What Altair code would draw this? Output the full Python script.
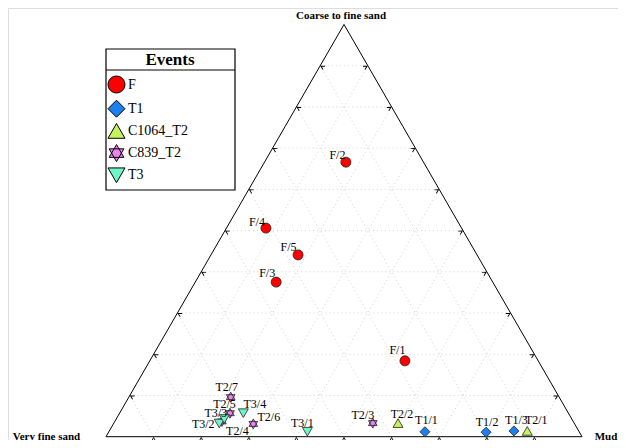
import altair as alt
import pandas as pd
import math

# ---------------- data (percentages) ----------------
SAMPLES = ["F/1", "F/2", "F/3", "F/4", "F/5",
           "T1/1", "T1/2", "T1/3",
           "T2/1", "T2/2", "T2/3", "T2/4", "T2/5", "T2/6", "T2/7",
           "T3/1", "T3/2", "T3/3", "T3/4"]
EVENTS = ["F", "F", "F", "F", "F",
          "T1", "T1", "T1",
          "C1064_T2", "C1064_T2", "C839_T2", "C839_T2", "C839_T2", "C839_T2", "C839_T2",
          "T3", "T3", "T3", "T3"]
COARSE = [18.4, 66.6, 37.5, 50.6, 44.1,
          1.2, 1.1, 1.4,
          1.4, 3.3, 3.3, 3.7, 5.7, 3.1, 9.6,
          1.2, 3.2, 4.3, 5.7]
VERY_FINE = [28.0, 16.3, 45.5, 41.1, 37.6,
             32.4, 19.6, 13.6,
             10.8, 37.0, 42.3, 73.8, 71.1, 67.5, 69.0,
             57.1, 74.6, 73.0, 68.3]
MUD = [53.6, 17.1, 17.0, 8.3, 18.3,
       66.4, 79.3, 85.0,
       87.8, 59.7, 54.4, 22.5, 23.2, 29.4, 21.4,
       41.7, 22.2, 22.7, 26.0]

EVENT_ORDER = ["F", "T1", "C1064_T2", "C839_T2", "T3"]
VERTEX_NAMES = ["Coarse to fine sand", "Very fine sand", "Mud"]
GRID_STEPS = [1, 2, 3, 4, 5, 6, 7, 8, 9]

# ---------------- styling ----------------
EVENT_COLORS = ["#ff0000", "#1e7ff0", "#c6f25e", "#ee82ee", "#6ef5c8"]
HEXAGRAM = "M0,-1L0.866,0.5L-0.866,0.5Z M0,1L-0.866,-0.5L0.866,-0.5Z"
EVENT_SHAPES = ["circle", "diamond", "triangle-up", HEXAGRAM, "triangle-down"]
SERIF = "Liberation Serif"

# label offsets in pixels (dx right, dy down) from each point to its label centre
LABEL_OFFSETS = {
    "F/1": (-7.5, -11), "F/2": (-8.5, -7), "F/3": (-9, -9), "F/4": (-9, -6), "F/5": (-9.5, -8),
    "T1/1": (1.5, -11.5), "T1/2": (1, -10), "T1/3": (2.5, -11),
    "T2/1": (9, -11), "T2/2": (4, -9), "T2/3": (-10, -8), "T2/4": (15.5, 9.5),
    "T2/5": (-5.5, -9), "T2/6": (15.5, -7), "T2/7": (-4, -10),
    "T3/1": (-5, -9), "T3/2": (-16, 0), "T3/3": (-8.5, -6), "T3/4": (11.5, -9),
}
# offsets (px) of each vertex title's baseline centre from its vertex
VERTEX_OFFSETS = [(-3, -5), (-59.5, 2.8), (24, 2.8)]

W, H = 610, 432
SIDE = 476.0          # pixels per unit triangle side
LEFT_PX = 98.0        # x pixel of the left vertex
BASE_FROM_BOTTOM = 3.3
HT = math.sqrt(3) / 2

XDOM = [-LEFT_PX / SIDE, (W - LEFT_PX) / SIDE]
YDOM = [-BASE_FROM_BOTTOM / SIDE, (H - BASE_FROM_BOTTOM) / SIDE]

xs = alt.Scale(domain=XDOM, nice=False, zero=False)
ys = alt.Scale(domain=YDOM, nice=False, zero=False)

# ---------------- tables ----------------
pts = pd.DataFrame({"sample": SAMPLES, "event": EVENTS, "coarse": COARSE,
                    "vfs": VERY_FINE, "mud": MUD})
pts["ldx"] = [LABEL_OFFSETS[s][0] for s in SAMPLES]
pts["ldy"] = [LABEL_OFFSETS[s][1] for s in SAMPLES]

grid_rows = []
for i in GRID_STEPS:
    f = i / 10
    grid_rows.append({"x": f / 2, "y": f * HT, "x2": 1 - f / 2, "y2": f * HT})
    grid_rows.append({"x": f, "y": 0, "x2": f + (1 - f) / 2, "y2": (1 - f) * HT})
    grid_rows.append({"x": 1 - f, "y": 0, "x2": (1 - f) / 2, "y2": (1 - f) * HT})
grid = pd.DataFrame(grid_rows)

edges = pd.DataFrame([
    {"x": 0, "y": 0, "x2": 1, "y2": 0},
    {"x": 0, "y": 0, "x2": 0.5, "y2": HT},
    {"x": 1, "y": 0, "x2": 0.5, "y2": HT},
])

tick_rows = []
for i in GRID_STEPS:
    f = i / 10
    tick_rows.append({"x": f, "y": 0, "side": "bottom"})
    tick_rows.append({"x": f / 2, "y": f * HT, "side": "left"})
    tick_rows.append({"x": 1 - f / 2, "y": f * HT, "side": "right"})
ticks = pd.DataFrame(tick_rows)

verts = pd.DataFrame({"name": VERTEX_NAMES,
                      "x": [0.5, 0.0, 1.0], "y": [HT, 0.0, 0.0]})
verts["x"] = verts["x"] + [o[0] / SIDE for o in VERTEX_OFFSETS]
verts["y"] = verts["y"] - pd.Series([o[1] / SIDE for o in VERTEX_OFFSETS])

X = lambda f="x": alt.X(f"{f}:Q", scale=xs, axis=None)
Y = lambda f="y": alt.Y(f"{f}:Q", scale=ys, axis=None)

grid_layer = alt.Chart(grid).mark_rule(
    color="#d2d2d2", strokeDash=[1, 3], strokeWidth=1
).encode(x=X(), y=Y(), x2="x2:Q", y2="y2:Q")

edge_layer = alt.Chart(edges).mark_rule(color="black", strokeWidth=1).encode(
    x=X(), y=Y(), x2="x2:Q", y2="y2:Q")

CHEV = "M-0.7,1.6L0,0.3L0.7,1.6"
tick_layers = []
for side, ang in [("bottom", 0), ("left", 300), ("right", 60)]:
    tick_layers.append(
        alt.Chart(ticks).transform_filter(alt.datum.side == side).mark_point(
            shape=CHEV, filled=False, stroke="black", strokeWidth=0.9, size=30,
            angle=ang, opacity=1
        ).encode(x=X(), y=Y())
    )

legend = alt.Legend(orient="none", legendX=99, legendY=67, title=None,
                    symbolSize=290, labelFont=SERIF, labelFontSize=14,
                    labelColor="black", rowPadding=1.2, labelOffset=2,
                    symbolStrokeColor="black", symbolStrokeWidth=1)

base_pts = alt.Chart(pts).transform_calculate(
    tot="datum.coarse + datum.vfs + datum.mud"
).transform_calculate(
    px="(datum.mud + datum.coarse / 2) / datum.tot",
    py=f"datum.coarse / datum.tot * {HT}"
)

point_layer = base_pts.mark_point(
    filled=True, size=100, stroke="#222222", strokeWidth=0.8, opacity=1
).encode(
    x=X("px"), y=Y("py"),
    color=alt.Color("event:N", scale=alt.Scale(domain=EVENT_ORDER, range=EVENT_COLORS),
                    legend=legend),
    shape=alt.Shape("event:N", scale=alt.Scale(domain=EVENT_ORDER, range=EVENT_SHAPES),
                    legend=legend),
)

label_layer = base_pts.transform_calculate(
    lx=f"datum.px + datum.ldx / {SIDE}",
    ly=f"datum.py - datum.ldy / {SIDE}"
).mark_text(font=SERIF, fontSize=12, color="black", align="center",
            baseline="middle").encode(x=X("lx"), y=Y("ly"), text="sample:N")

vertex_layer = alt.Chart(verts).mark_text(
    font=SERIF, fontSize=11, fontWeight="bold", color="black",
    align="center", baseline="alphabetic"
).encode(x=X(), y=Y(), text="name:N")

one = alt.Data(values=[{}])
box = alt.Chart(one).mark_rect(fill="white", stroke="black", strokeWidth=1.2).encode(
    x=alt.value(98), x2=alt.value(227), y=alt.value(41), y2=alt.value(182))
underline = alt.Chart(one).mark_rule(color="black", strokeWidth=1).encode(
    x=alt.value(98), x2=alt.value(227), y=alt.value(62))
title = alt.Chart(one).mark_text(
    text="Events", font=SERIF, fontSize=17, fontWeight="bold", color="black",
    align="center", baseline="middle"
).encode(x=alt.value(162), y=alt.value(52))

chart = alt.layer(
    grid_layer, edge_layer, *tick_layers, box, underline, title,
    point_layer, label_layer, vertex_layer
).properties(
    width=W, height=H, padding=0, autosize=alt.AutoSizeParams(type="none")
).configure_view(stroke=None).configure(background="white")

chart.save("out.html", embed_options={"renderer": "svg", "actions": False})
